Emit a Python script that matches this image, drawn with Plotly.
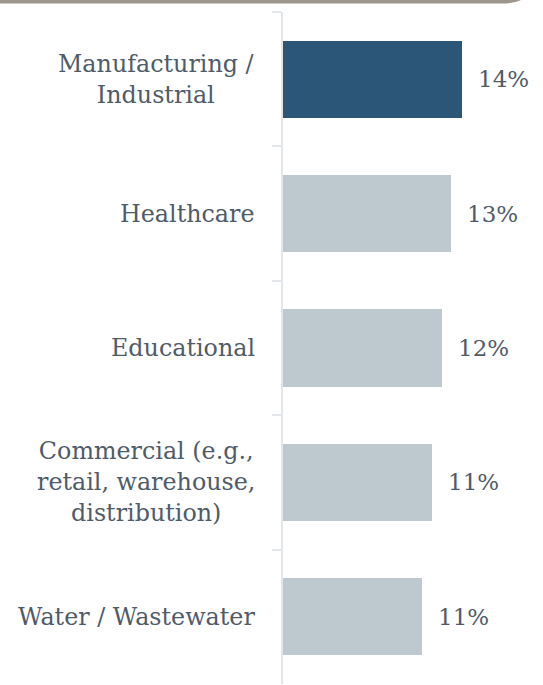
import plotly.graph_objects as go

# Share of respondents by sector
categories = [
    "Manufacturing /<br>Industrial",
    "Healthcare",
    "Educational",
    "Commercial (e.g.,<br>retail, warehouse,<br>distribution)",
    "Water / Wastewater",
]
values = [13.6, 12.8, 12.1, 11.3, 10.6]
highlight = [True, False, False, False, False]

W, H = 543, 685
L, R, T, B = 283, 0, 12, 1
PW, PH = W - L - R, H - T - B

TEXT = "#4f5b69"
DARK = "#2c5677"
LIGHT = "#bec8cf"
AXIS = "#e2e6ea"
FONT = "DejaVu Serif"
SIZE = 23.8

colors = [DARK if h else LIGHT for h in highlight]

fig = go.Figure(
    go.Bar(
        x=values,
        y=categories,
        orientation="h",
        marker=dict(color=colors, line=dict(width=0)),
        width=0.573,
        hoverinfo="skip",
    )
)

annotations = []
# value labels to the right of each bar
for cat, v in zip(categories, values):
    annotations.append(dict(
        x=v, y=cat, xref="x", yref="y",
        text=f"{v:.0f}%", showarrow=False,
        xanchor="left", yanchor="middle", xshift=14,
        font=dict(family=FONT, size=SIZE - 0.8, color=TEXT),
    ))
# category labels, centred line by line
for cat in categories:
    annotations.append(dict(
        x=0, y=cat, xref="paper", yref="y",
        text=cat, showarrow=False, align="center",
        xanchor="right", yanchor="middle", xshift=-26,
        font=dict(family=FONT, size=SIZE, color=TEXT),
    ))

def px_x(p):
    return (p - L) / PW

def px_y(p):
    return (H - B - p) / PH

# thin header band with a rounded right end
band = (
    f"M {px_x(0)},{px_y(0)} L {px_x(521)},{px_y(0)} "
    f"Q {px_x(514)},{px_y(3.6)} {px_x(502)},{px_y(3.6)} "
    f"L {px_x(0)},{px_y(3.6)} Z"
)

fig.update_layout(
    width=W, height=H,
    margin=dict(l=L, r=R, t=T, b=B, pad=0),
    paper_bgcolor="white", plot_bgcolor="white",
    showlegend=False,
    bargap=0,
    xaxis=dict(range=[0, 19.76], visible=False, showgrid=False, zeroline=False),
    yaxis=dict(
        categoryorder="array", categoryarray=categories,
        autorange="reversed",
        showticklabels=False, showgrid=False, zeroline=False,
        showline=True, linecolor=AXIS, linewidth=2,
        ticks="outside", tickson="boundaries", ticklen=9,
        tickcolor=AXIS, tickwidth=2,
    ),
    annotations=annotations,
    shapes=[dict(type="path", path=band, xref="paper", yref="paper",
                 fillcolor="#9b958b", line=dict(width=0), layer="above")],
)

fig.write_html("out.html")
